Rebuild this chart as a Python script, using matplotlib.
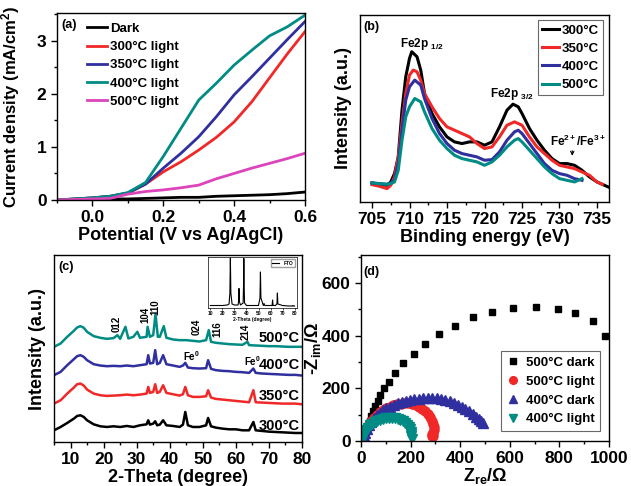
import matplotlib
matplotlib.use("Agg")
import matplotlib.pyplot as plt
from matplotlib.ticker import MultipleLocator

plt.rcParams['font.family'] = ['Liberation Sans', 'DejaVu Sans']
plt.rcParams['font.weight'] = 'bold'
plt.rcParams['axes.labelweight'] = 'bold'
plt.rcParams['mathtext.fontset'] = 'custom'
plt.rcParams['mathtext.rm'] = 'Liberation Sans:bold'
plt.rcParams['mathtext.it'] = 'Liberation Sans:bold'
plt.rcParams['mathtext.bf'] = 'Liberation Sans:bold'

# ---- (a) LSV curves ----
pot = [-0.1, -0.05, 0.0, 0.05, 0.1, 0.15, 0.2, 0.25, 0.3, 0.35, 0.4, 0.45, 0.5, 0.55, 0.6]
j_dark = [0.0, 0.01, 0.01, 0.02, 0.02, 0.03, 0.04, 0.05, 0.05, 0.07, 0.08, 0.09, 0.1, 0.12, 0.15]
j_300 = [0.0, 0.02, 0.04, 0.07, 0.13, 0.3, 0.53, 0.72, 0.94, 1.18, 1.47, 1.85, 2.3, 2.75, 3.17]
j_350 = [0.0, 0.02, 0.04, 0.07, 0.13, 0.3, 0.6, 0.88, 1.19, 1.57, 1.98, 2.32, 2.67, 3.02, 3.36]
j_400 = [0.0, 0.02, 0.04, 0.07, 0.14, 0.33, 0.82, 1.35, 1.88, 2.2, 2.54, 2.82, 3.09, 3.26, 3.48]
j_500 = [0.0, 0.01, 0.02, 0.03, 0.11, 0.16, 0.19, 0.23, 0.28, 0.4, 0.5, 0.6, 0.69, 0.78, 0.88]

# ---- (b) XPS Fe2p ----
be_a = [705, 706, 707, 707.5, 708, 708.5, 709, 709.5, 710, 710.3, 711, 711.5, 712, 713, 714, 715, 716, 717,
        718, 719, 720, 721, 722, 723, 723.8, 724.5, 725, 726, 727, 728, 729, 730, 731, 732, 733, 734, 735,
        736, 737]
xps_300 = [0.57, 0.53, 0.50, 0.60, 0.85, 1.35, 2.75, 3.75, 4.30, 4.50, 4.35, 3.95, 3.25, 2.65, 2.25, 1.95,
           1.80, 1.75, 1.80, 1.80, 1.70, 1.80, 2.25, 2.75, 2.93, 2.85, 2.65, 2.20, 1.85, 1.55, 1.30, 1.15,
           1.15, 1.10, 0.95, 0.75, 0.60, 0.50, 0.40]
be_b = [705, 706, 707, 707.5, 708, 708.5, 709, 709.5, 710, 710.5, 711, 711.5, 712, 713, 714, 715, 716, 717,
        718, 719, 720, 721, 722, 723, 724, 725, 726, 727, 728, 729, 730, 731, 732, 733, 734, 735, 735.7]
xps_350 = [0.52, 0.47, 0.40, 0.50, 0.75, 1.35, 2.35, 3.25, 3.80, 3.95, 3.90, 3.65, 3.25, 2.85, 2.50, 2.25,
           2.15, 2.05, 1.95, 1.75, 1.60, 1.65, 1.95, 2.30, 2.40, 2.30, 1.95, 1.65, 1.45, 1.25, 1.10, 1.05,
           1.00, 0.90, 0.80, 0.60, 0.53]
be_c = [705, 706, 707, 707.5, 708, 708.5, 709, 709.5, 710, 710.7, 711.5, 712, 713, 714, 715, 716, 717, 718,
        719, 720, 721, 722, 723, 724, 724.5, 725, 726, 727, 728, 729, 730, 731, 732, 733]
xps_400 = [0.57, 0.55, 0.53, 0.57, 0.65, 1.15, 2.15, 3.05, 3.45, 3.65, 3.50, 3.10, 2.50, 2.05, 1.75, 1.55,
           1.45, 1.40, 1.35, 1.25, 1.27, 1.50, 1.85, 2.10, 2.15, 2.05, 1.75, 1.45, 1.15, 0.95, 0.85, 0.80,
           0.70, 0.65]
xps_500 = [0.57, 0.55, 0.53, 0.55, 0.60, 0.95, 1.85, 2.55, 2.85, 3.10, 3.00, 2.70, 2.20, 1.85, 1.60, 1.40,
           1.30, 1.25, 1.20, 1.10, 1.20, 1.40, 1.65, 1.85, 1.90, 1.80, 1.55, 1.30, 1.05, 0.85, 0.70, 0.65,
           0.60, 0.70]

# ---- (c) XRD ----
tt_lo = [5, 7, 9, 11, 12, 13, 14, 15, 17, 19, 21, 23, 25, 27, 29, 31, 33, 33.5, 34, 35, 35.6, 36.2, 37, 38,
         39, 41, 43, 44, 44.7, 45.5, 47, 49, 51, 51.6, 52.5, 54, 56, 58, 60, 62, 64, 65.3, 66, 68, 70, 72,
         74, 76, 78, 80]
xrd_300 = [0.35, 0.45, 0.57, 0.70, 0.78, 0.80, 0.75, 0.65, 0.53, 0.47, 0.45, 0.47, 0.45, 0.48, 0.45, 0.50,
           0.53, 0.65, 0.52, 0.55, 0.62, 0.50, 0.52, 0.65, 0.50, 0.48, 0.45, 0.52, 0.90, 0.50, 0.45, 0.45,
           0.50, 0.72, 0.47, 0.43, 0.40, 0.38, 0.38, 0.35, 0.35, 0.60, 0.35, 0.33, 0.31, 0.30, 0.29, 0.28,
           0.27, 0.27]
xrd_350 = [1.15, 1.25, 1.45, 1.63, 1.73, 1.75, 1.69, 1.57, 1.45, 1.40, 1.38, 1.39, 1.40, 1.42, 1.40, 1.42,
           1.45, 1.65, 1.47, 1.50, 1.73, 1.47, 1.50, 1.70, 1.47, 1.43, 1.39, 1.43, 1.65, 1.40, 1.35, 1.35,
           1.37, 1.55, 1.33, 1.29, 1.27, 1.25, 1.23, 1.21, 1.19, 1.55, 1.19, 1.18, 1.17, 1.16, 1.15, 1.15,
           1.15, 1.13]
xrd_400 = [2.00, 2.10, 2.30, 2.48, 2.57, 2.60, 2.55, 2.45, 2.33, 2.29, 2.27, 2.28, 2.27, 2.29, 2.27, 2.30,
           2.33, 2.60, 2.35, 2.37, 2.75, 2.33, 2.37, 2.60, 2.33, 2.29, 2.25, 2.29, 2.37, 2.23, 2.21, 2.20,
           2.21, 2.45, 2.19, 2.15, 2.13, 2.12, 2.10, 2.09, 2.07, 2.20, 2.07, 2.05, 2.04, 2.03, 2.02, 2.01,
           2.01, 1.99]
tt_hi = [5, 7, 9, 11, 12, 13, 14, 15, 17, 19, 21, 23, 24.2, 25, 26.6, 27.5, 29, 30.2, 31, 33, 33.3, 34, 35,
         35.7, 36.4, 37, 38.2, 39, 41, 43, 45, 47, 49, 51, 51.8, 52.5, 54, 56, 58, 60, 62, 63.5, 64, 66, 68,
         70, 72, 74, 76, 78, 80]
xrd_500 = [2.85, 2.95, 3.15, 3.33, 3.43, 3.47, 3.42, 3.30, 3.17, 3.12, 3.09, 3.11, 3.20, 3.09, 3.45, 3.10,
           3.15, 3.30, 3.12, 3.15, 3.45, 3.15, 3.20, 3.83, 3.15, 3.15, 3.47, 3.12, 3.07, 3.05, 3.05, 3.03,
           3.01, 3.05, 3.35, 3.00, 2.97, 2.95, 2.93, 2.92, 2.91, 3.00, 2.90, 2.89, 2.88, 2.87, 2.87, 2.86,
           2.85, 2.85, 2.85]

# FTO substrate (inset)
tt_fto = [10, 15, 20, 24, 25.5, 26.2, 26.6, 27, 28, 30, 33, 33.5, 33.8, 34.2, 35, 37.2, 37.6, 37.8, 38.0,
          38.4, 40, 45, 50, 51.2, 51.6, 52, 54, 54.6, 55.2, 58, 61.3, 61.7, 62.1, 64, 65.3, 65.7, 66.1, 70,
          75, 78.2, 78.6, 79, 80]
fto = [0.05, 0.05, 0.05, 0.06, 0.08, 0.3, 1.0, 0.3, 0.08, 0.06, 0.06, 0.15, 0.39, 0.12, 0.06, 0.1, 0.5,
       0.99, 0.5, 0.1, 0.05, 0.05, 0.05, 0.2, 0.72, 0.2, 0.05, 0.09, 0.05, 0.05, 0.05, 0.16, 0.05, 0.05,
       0.08, 0.3, 0.08, 0.05, 0.04, 0.04, 0.05, 0.04, 0.04]

# ---- (d) Nyquist ----
zre_d500 = [8, 13, 20, 27, 35, 42, 48, 58, 67, 78, 94, 114, 138, 168, 212, 259, 315, 379, 450, 529, 612,
            705, 796, 864, 937, 982]
zim_d500 = [6, 22, 38, 57, 77, 96, 115, 134, 152, 174, 200, 226, 258, 295, 331, 369, 405, 439, 470, 490,
            504, 508, 502, 487, 456, 398]
zre_l500 = [5, 8, 12, 18, 25, 33, 42, 52, 63, 75, 88, 102, 116, 130, 145, 160, 175, 190, 205, 220, 234,
            247, 259, 269, 278, 285, 290, 293, 294, 292, 288, 286, 290]
zim_l500 = [3, 12, 24, 37, 50, 63, 76, 88, 99, 109, 118, 125, 131, 136, 140, 142, 143, 143, 141, 137, 131,
            123, 113, 102, 90, 77, 64, 52, 41, 32, 25, 20, 18]
zre_d400 = [8, 12, 18, 25, 33, 42, 52, 63, 75, 88, 102, 117, 132, 148, 164, 181, 198, 215, 233, 251, 269,
            287, 305, 323, 340, 357, 374, 390, 406, 421, 436, 450, 463, 475, 485, 492]
zim_d400 = [5, 18, 32, 47, 61, 74, 86, 97, 107, 116, 124, 131, 137, 143, 148, 152, 156, 159, 161, 163, 164,
            164, 163, 160, 156, 151, 145, 138, 130, 122, 113, 103, 93, 84, 76, 69]
zre_l400 = [3, 6, 10, 15, 21, 28, 36, 45, 55, 66, 77, 89, 101, 113, 125, 137, 148, 159, 169, 178, 186, 192,
            197, 200, 202, 203, 204]
zim_l400 = [3, 12, 22, 32, 42, 51, 59, 66, 72, 77, 81, 84, 86, 87, 87, 86, 84, 80, 75, 69, 62, 54, 45, 36,
            27, 18, 8]

BLK = '#000000'
RED = '#f02828'
BLU = '#2f2f9f'
TEA = '#008c84'
MAG = '#dd44bb'

TICK = 12.5
LAB = 13
LEG = 9.5


def deg(t):
    return t + '°C'


def style(ax):
    for s in ax.spines.values():
        s.set_linewidth(1.0)
    ax.tick_params(which='both', direction='out', top=False, right=False, labelsize=TICK, width=1)
    ax.tick_params(which='major', length=4)
    ax.tick_params(which='minor', length=2.5)


fig = plt.figure(figsize=(6.31, 4.86), dpi=100)

# (a)
ax = fig.add_axes([57 / 631, 1 - 200 / 486, 248 / 631, 187 / 486])
ax.plot(pot, j_dark, color=BLK, lw=2, label='Dark')
ax.plot(pot, j_300, color=RED, lw=2, label=deg('300') + ' light')
ax.plot(pot, j_350, color=BLU, lw=2, label=deg('350') + ' light')
ax.plot(pot, j_400, color=TEA, lw=2, label=deg('400') + ' light')
ax.plot(pot, j_500, color=MAG, lw=2, label=deg('500') + ' light')
ax.set_xlim(-0.1, 0.6)
ax.set_ylim(0, 3.52)
ax.xaxis.set_minor_locator(MultipleLocator(0.1))
ax.yaxis.set_major_locator(MultipleLocator(1))
ax.yaxis.set_minor_locator(MultipleLocator(0.5))
ax.set_xticks([0.0, 0.2, 0.4, 0.6])
ax.set_xticklabels(['0.0', '0.2', '0.4', '0.6'])
style(ax)
ax.set_xlabel('Potential (V vs Ag/AgCl)', fontsize=LAB, labelpad=1)
ax.set_ylabel('Current density (mA/cm$^{2}$)', fontsize=12, labelpad=3)
ax.yaxis.set_label_coords(-0.14, 0.5)
ax.legend(loc='upper left', bbox_to_anchor=(0.09, 0.99), frameon=False, fontsize=LEG,
          handlelength=1.5, handletextpad=0.25, labelspacing=0.45, borderpad=0.1)
ax.text(0.016, 0.935, '(a)', transform=ax.transAxes, fontsize=9, va='center')

# (b)
ax = fig.add_axes([360 / 631, 1 - 202 / 486, 249 / 631, 187 / 486])
ax.plot(be_a, xps_300, color=BLK, lw=2.2, label=deg('300'))
ax.plot(be_b, xps_350, color=RED, lw=2.2, label=deg('350'))
ax.plot(be_c, xps_400, color=BLU, lw=2.2, label=deg('400'))
ax.plot(be_c, xps_500, color=TEA, lw=2.2, label=deg('500'))
ax.set_xlim(703.4, 736.6)
ax.set_ylim(0, 5.6)
ax.xaxis.set_major_locator(MultipleLocator(5))
ax.xaxis.set_minor_locator(MultipleLocator(2.5))
ax.set_yticks([])
style(ax)
ax.set_xlabel('Binding energy (eV)', fontsize=LAB, labelpad=1)
ax.set_ylabel('Intensity (a.u.)', fontsize=LAB, labelpad=6)
lg = ax.legend(loc='upper right', bbox_to_anchor=(0.985, 0.985), fontsize=LEG, fancybox=False,
               handlelength=1.3, handletextpad=0.2, labelspacing=0.45, borderpad=0.3,
               borderaxespad=0.2, edgecolor='#444444')
lg.get_frame().set_linewidth(0.8)
ax.text(0.012, 0.935, '(b)', transform=ax.transAxes, fontsize=9, va='center')
ax.text(708.8, 4.65, r'Fe2p $_{\mathrm{1/2}}$', fontsize=8.5)
ax.text(720.8, 3.15, r'Fe2p $_{\mathrm{3/2}}$', fontsize=8.5)
ax.text(728.8, 1.68, r'Fe$^{2+}$/Fe$^{3+}$', fontsize=8.5)
ax.annotate('', xy=(731.7, 1.3), xytext=(731.7, 1.62),
            arrowprops=dict(arrowstyle='->', lw=0.8, color='black', mutation_scale=6))

# (c)
ax = fig.add_axes([54 / 631, 1 - 442 / 486, 248 / 631, 187 / 486])
ax.plot(tt_lo, xrd_300, color=BLK, lw=1.8)
ax.plot(tt_lo, xrd_350, color=RED, lw=1.8)
ax.plot(tt_lo, xrd_400, color=BLU, lw=1.8)
ax.plot(tt_hi, xrd_500, color=TEA, lw=1.8)
ax.set_xlim(5, 80)
ax.set_ylim(0, 5.6)
ax.xaxis.set_major_locator(MultipleLocator(10))
ax.xaxis.set_minor_locator(MultipleLocator(5))
ax.set_yticks([])
style(ax)
ax.set_xlabel('2-Theta (degree)', fontsize=LAB, labelpad=1)
ax.set_ylabel('Intensity (a.u.)', fontsize=LAB, labelpad=6)
ax.text(0.016, 0.935, '(c)', transform=ax.transAxes, fontsize=9, va='center')
for lbl, xp, yp in [('012', 23.9, 3.3), ('104', 32.7, 3.55), ('110', 35.8, 3.8),
                    ('024', 48.1, 3.2), ('116', 54.3, 3.15), ('214', 62.9, 3.05)]:
    ax.text(xp, yp, lbl, rotation=90, ha='center', va='bottom', fontsize=7)
ax.text(43.9, 2.43, r'Fe$^{\mathrm{0}}$', fontsize=7)
ax.text(62.4, 2.27, r'Fe$^{\mathrm{0}}$', fontsize=7)
for lbl, yp in [('500', 3.0), ('400', 2.2), ('350', 1.27), ('300', 0.35)]:
    ax.text(79.4, yp, deg(lbl), fontsize=10.5, ha='right')

ins = fig.add_axes([208 / 631, 1 - 308 / 486, 89 / 631, 51 / 486])
ins.plot(tt_fto, fto, color=BLK, lw=0.8, label='FTO')
ins.set_xlim(8, 82)
ins.set_ylim(0, 1.02)
ins.set_yticks([])
ins.set_xticks([10, 20, 30, 40, 50, 60, 70, 80])
ins.tick_params(labelsize=3.5, length=1.5, width=0.5, pad=1)
ins.set_xlabel('2-Theta (degree)', fontsize=3.5, labelpad=0.5)
for s in ins.spines.values():
    s.set_linewidth(0.5)
ins.legend(loc='upper right', fontsize=3.5, fancybox=False, handlelength=1.5, borderpad=0.3,
           edgecolor='#888888')

# (d)
ax = fig.add_axes([361 / 631, 1 - 441 / 486, 248 / 631, 186 / 486])
ax.plot(zre_d500, zim_d500, 's', color=BLK, ms=5, label=deg('500') + ' dark')
ax.plot(zre_l500, zim_l500, 'o', color=RED, ms=6.5, label=deg('500') + ' light')
ax.plot(zre_d400, zim_d400, '^', color=BLU, ms=6.5, label=deg('400') + ' dark')
ax.plot(zre_l400, zim_l400, 'v', color=TEA, ms=6.5, label=deg('400') + ' light')
ax.set_xlim(0, 1000)
ax.set_ylim(0, 707)
ax.xaxis.set_major_locator(MultipleLocator(200))
ax.xaxis.set_minor_locator(MultipleLocator(100))
ax.yaxis.set_major_locator(MultipleLocator(200))
ax.yaxis.set_minor_locator(MultipleLocator(100))
style(ax)
ax.set_xlabel(r'Z$_{\mathrm{re}}$/Ω', fontsize=LAB, labelpad=0)
ax.set_ylabel(r'-Z$_{\mathrm{im}}$/Ω', fontsize=LAB, labelpad=-1)
lg = ax.legend(loc='lower right', bbox_to_anchor=(0.99, 0.02), fontsize=LEG, fancybox=False,
               handlelength=1.0, handletextpad=0.5, labelspacing=0.5, borderpad=0.4,
               edgecolor='#444444', markerscale=0.85)
lg.get_frame().set_linewidth(0.8)
ax.text(0.008, 0.91, '(d)', transform=ax.transAxes, fontsize=9, va='center')

fig.savefig('out.png', dpi=100)
